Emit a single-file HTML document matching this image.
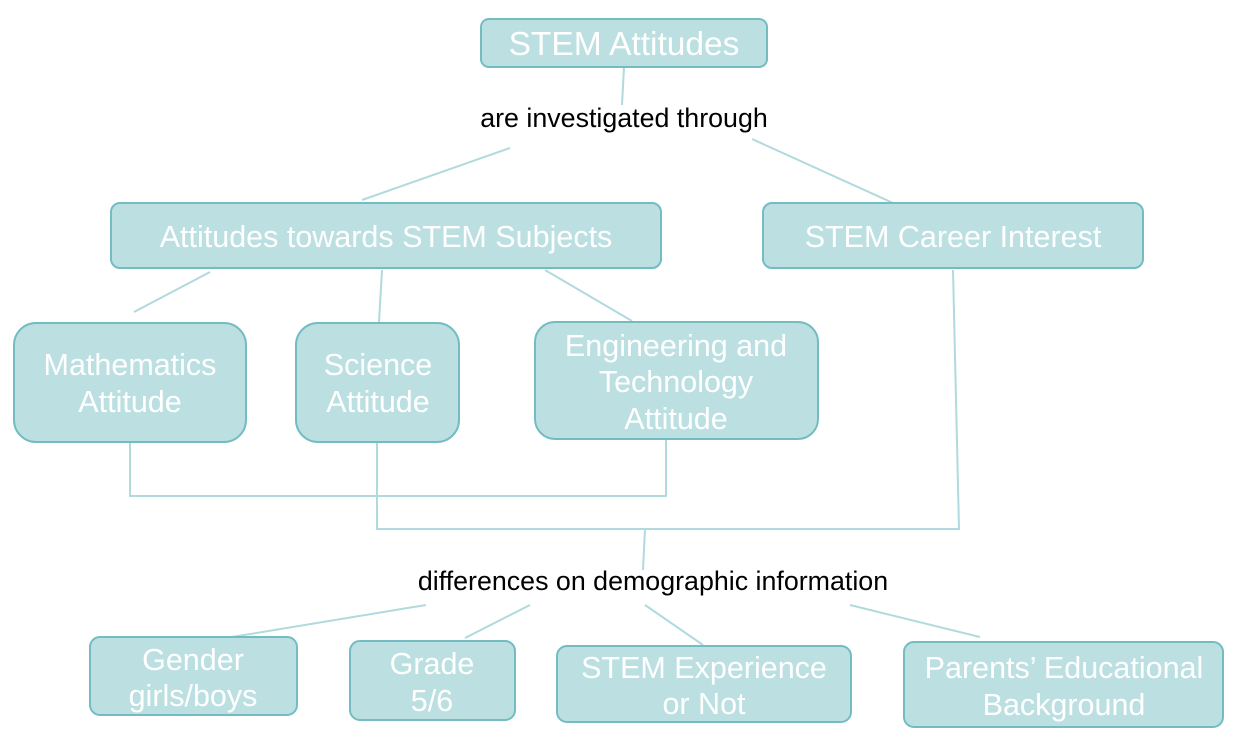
<!DOCTYPE html>
<html><head><meta charset="utf-8"><style>
html,body{margin:0;padding:0;background:#fff;width:1242px;height:741px;overflow:hidden}
svg{display:block}
text{font-family:"Liberation Sans",Arial,sans-serif}
.b{fill:#bce0e2;stroke:#72bcc2;stroke-width:2}
.t{fill:#fff;font-size:30.5px;text-anchor:middle}
.l{fill:#000;font-size:26.8px;text-anchor:middle}
.c{stroke:#b0dade;stroke-width:2;fill:none}
</style></head><body>
<svg width="1242" height="741" viewBox="0 0 1242 741">
<g class="c">
<line x1="624" y1="67" x2="622" y2="105"/>
<line x1="510" y1="148" x2="362" y2="200"/>
<line x1="752" y1="139" x2="893" y2="203"/>
<line x1="210" y1="272" x2="134" y2="312"/>
<line x1="382" y1="270" x2="379" y2="322"/>
<line x1="545" y1="270" x2="632" y2="321"/>
<polyline points="130,442 130,496 666,496 666,440"/>
<polyline points="377,442 377,529 959,529 953,270"/>
<line x1="645" y1="529" x2="643" y2="570"/>
<line x1="426" y1="605" x2="232" y2="637"/>
<line x1="530" y1="605" x2="465" y2="638"/>
<line x1="645" y1="605" x2="703" y2="645"/>
<line x1="850" y1="605" x2="980" y2="637"/>
</g>
<rect class="b" x="481" y="19" width="286" height="48" rx="8"/>
<text class="t" x="624" y="55" style="font-size:33.5px">STEM Attitudes</text>
<text class="l" x="624" y="127">are investigated through</text>
<rect class="b" x="111" y="203" width="550" height="65" rx="9"/>
<text class="t" x="386" y="247">Attitudes towards STEM Subjects</text>
<rect class="b" x="763" y="203" width="380" height="65" rx="9"/>
<text class="t" x="953" y="247">STEM Career Interest</text>
<rect class="b" x="14" y="323" width="232" height="119" rx="22"/>
<text class="t" x="130" y="375">Mathematics</text><text class="t" x="130" y="412">Attitude</text>
<rect class="b" x="296" y="323" width="163" height="119" rx="22"/>
<text class="t" x="378" y="375">Science</text><text class="t" x="378" y="412">Attitude</text>
<rect class="b" x="535" y="322" width="283" height="117" rx="20"/>
<text class="t" x="676" y="356">Engineering and</text><text class="t" x="676" y="392">Technology</text><text class="t" x="676" y="429">Attitude</text>
<text class="l" x="653" y="590">differences on demographic information</text>
<rect class="b" x="90" y="637" width="207" height="78" rx="10"/>
<text class="t" x="193" y="670">Gender</text><text class="t" x="193" y="706">girls/boys</text>
<rect class="b" x="350" y="641" width="165" height="79" rx="10"/>
<text class="t" x="432" y="674">Grade</text><text class="t" x="432" y="711">5/6</text>
<rect class="b" x="557" y="646" width="294" height="76" rx="10"/>
<text class="t" x="704" y="678">STEM Experience</text><text class="t" x="704" y="714">or Not</text>
<rect class="b" x="904" y="642" width="319" height="85" rx="10"/>
<text class="t" x="1064" y="678">Parents’ Educational</text><text class="t" x="1064" y="715">Background</text>
</svg>
</body></html>
